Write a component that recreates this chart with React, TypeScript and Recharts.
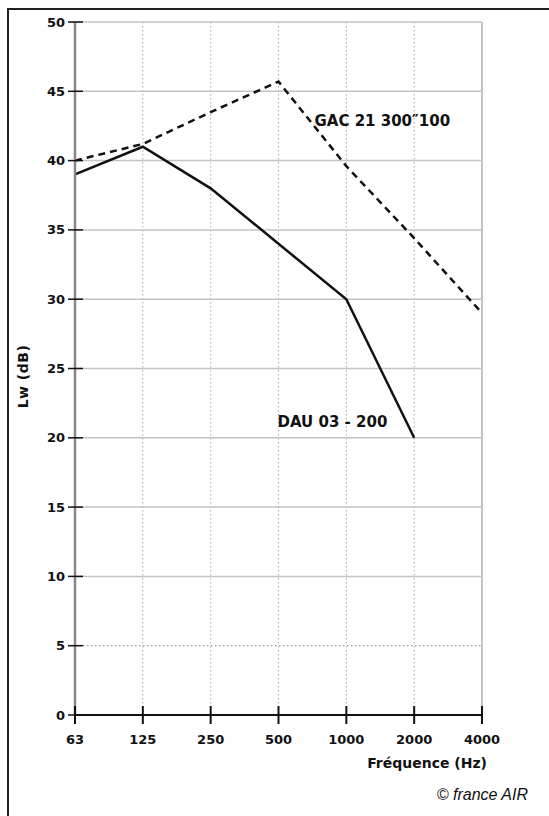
import React from 'react';
import { LineChart, Line, XAxis, YAxis, CartesianGrid, ReferenceLine, ReferenceDot } from 'recharts';

const categories = ['63', '125', '250', '500', '1000', '2000', '4000'];
const dauValues: (number | null)[] = [39, 41, 38, 34, 30, 20, null];
const gacValues: number[] = [40, 41.2, 43.5, 45.7, 39.6, 34.4, 29];
const yTicks = [0, 5, 10, 15, 20, 25, 30, 35, 40, 45, 50];
const solidGridValues = [10, 15, 20, 25, 30, 35, 40, 45, 50];
const dottedGridValues = [5];

const dauName = 'DAU 03 - 200';
const gacName = 'GAC 21 300\u2033100';
const xTitle = 'Fréquence (Hz)';
const yTitle = 'Lw (dB)';
const credit = '\u00A9 france AIR';

const data = categories.map((c, i) => ({ freq: c, dau: dauValues[i], gac: gacValues[i] }));

const FONT = 'DejaVu Sans, Arial, sans-serif';

const XTick = (props: any) => {
  const { x, y, payload } = props;
  return (
    <g>
      <line x1={x} x2={x} y1={y - 9} y2={y + 9} stroke="#111" strokeWidth={2} />
      <text x={x} y={y + 24} textAnchor="middle" dominantBaseline="central" fontFamily={FONT} fontWeight="bold" fontSize={13} fill="#111">
        {payload.value}
      </text>
    </g>
  );
};

const YTick = (props: any) => {
  const { x, y, payload } = props;
  return (
    <g>
      <line x1={x - 7} x2={x + 8} y1={y} y2={y} stroke="#111" strokeWidth={1.5} />
      <text x={x - 10} y={y} textAnchor="end" dominantBaseline="central" fontFamily={FONT} fontWeight="bold" fontSize={13} fill="#111">
        {payload.value}
      </text>
    </g>
  );
};

export default function App() {
  return (
    <div style={{ position: 'fixed', left: 0, top: 0, width: 549, height: 816, overflow: 'hidden', background: '#fff' }}>
      <div style={{ position: 'absolute', left: 7, top: 8, width: 700, height: 1000, borderLeft: '2px solid #222', borderTop: '2px solid #222' }} />
      <div style={{ position: 'absolute', left: 0, top: 0 }}>
        <LineChart width={549} height={816} data={data} margin={{ top: 22, left: 15, right: 67, bottom: 71 }}>
          <CartesianGrid horizontal={false} vertical={true} stroke="#aaa" strokeDasharray="1.5 2.5" />
          {solidGridValues.map((v) => (
            <ReferenceLine key={'s' + v} y={v} stroke="#c4c4c4" strokeWidth={1.5} />
          ))}
          {dottedGridValues.map((v) => (
            <ReferenceLine key={'d' + v} y={v} stroke="#888" strokeWidth={1} strokeDasharray="1.5 2.5" />
          ))}
          <ReferenceLine x={categories[categories.length - 1]} stroke="#c4c4c4" strokeWidth={2} />
          <XAxis
            dataKey="freq"
            height={30}
            axisLine={{ stroke: '#111', strokeWidth: 2 }}
            tickLine={false}
            tickSize={0}
            tickMargin={0}
            tick={<XTick />}
            interval={0}
            label={{
              content: (p: any) => {
                const vb = p.viewBox;
                return (
                  <text x={vb.x + vb.width + 5} y={vb.y + 48} textAnchor="end" dominantBaseline="central" fontFamily={FONT} fontWeight="bold" fontSize={14} fill="#111">
                    {xTitle}
                  </text>
                );
              },
            }}
          />
          <YAxis
            width={60}
            domain={[0, 50]}
            ticks={yTicks}
            type="number"
            axisLine={{ stroke: '#888', strokeWidth: 2.5 }}
            tickLine={false}
            tickSize={0}
            tickMargin={0}
            tick={<YTick />}
            interval={0}
            label={{
              content: (p: any) => {
                const vb = p.viewBox;
                const cx = 23;
                const cy = vb.y + vb.height / 2 + 8;
                return (
                  <text x={cx} y={cy} transform={`rotate(-90 ${cx} ${cy})`} textAnchor="middle" dominantBaseline="central" fontFamily={FONT} fontWeight="bold" fontSize={14} letterSpacing={0.5} fill="#111">
                    {yTitle}
                  </text>
                );
              },
            }}
          />
          <Line dataKey="gac" stroke="#111" strokeWidth={2.5} strokeDasharray="7 5" dot={false} isAnimationActive={false} connectNulls={false} />
          <Line dataKey="dau" stroke="#111" strokeWidth={2.5} dot={false} isAnimationActive={false} connectNulls={false} />
          <ReferenceDot
            x="500"
            y={42.8}
            r={1}
            fill="none"
            stroke="none"
            label={{
              content: (p: any) => (
                <text x={p.viewBox.x + 37} y={p.viewBox.y} textAnchor="start" dominantBaseline="central" fontFamily={FONT} fontWeight="bold" fontSize={15} fill="#111">
                  {gacName}
                </text>
              ),
            }}
          />
          <ReferenceDot
            x="500"
            y={21.1}
            r={1}
            fill="none"
            stroke="none"
            label={{
              content: (p: any) => (
                <text x={p.viewBox.x} y={p.viewBox.y} textAnchor="start" dominantBaseline="central" fontFamily={FONT} fontWeight="bold" fontSize={15} fill="#111">
                  {dauName}
                </text>
              ),
            }}
          />
        </LineChart>
      </div>
      <div style={{ position: 'absolute', right: 21, top: 786, fontFamily: 'Liberation Sans, Arial, sans-serif', fontStyle: 'italic', fontSize: 16, lineHeight: '18px', color: '#111', whiteSpace: 'nowrap' }}>
        {credit}
      </div>
    </div>
  );
}
